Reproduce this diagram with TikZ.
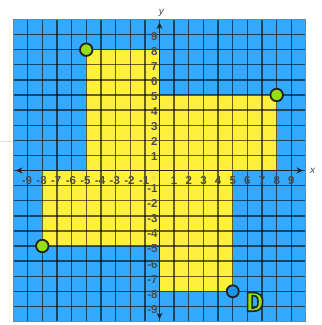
\documentclass[tikz,border=0pt]{standalone}
\usepackage{fontspec}
\newfontfamily\labfont{Liberation Sans}
\newfontfamily\dfont{Fira Sans}
\usetikzlibrary{arrows.meta}
\definecolor{gridblue}{RGB}{51,170,255}
\definecolor{shapeyellow}{RGB}{255,240,60}
\definecolor{dotgreen}{RGB}{150,222,20}
\definecolor{dotblue}{RGB}{25,150,235}
\definecolor{labgray}{RGB}{75,75,75}
\definecolor{edgedark}{RGB}{35,35,35}
\newcommand{\outlinedD}{{\color{dotgreen}\special{pdf:code 0.14 0.14 0.14 RG 2 Tr 1.6 w}D\special{pdf:code 0 Tr 1 w}}}
\tikzset{
  gridline/.style={black, opacity=0.6, line width=1.4pt},
  axisline/.style={edgedark, line width=1.8pt, {Stealth[length=6.5pt,width=6pt]}-{Stealth[length=6.5pt,width=6pt]}},
  xlab/.style={font=\labfont\bfseries\fontsize{11.5}{11.5}\selectfont, text=labgray, inner sep=0pt},
  ylab/.style={font=\labfont\bfseries\fontsize{11.5}{11.5}\selectfont, text=labgray, inner sep=0pt, anchor=east},
  axisname/.style={font=\labfont\itshape\fontsize{10}{10}\selectfont, text=labgray, inner sep=0pt},
  greendot/.style={circle, fill=dotgreen, draw=edgedark, line width=1.8pt, minimum size=12.5pt, inner sep=0pt},
  bluedot/.style={circle, fill=dotblue, draw=edgedark, line width=1.8pt, minimum size=12pt, inner sep=0pt},
  dletter/.style={font=\dfont\bfseries\fontsize{27}{27}\selectfont, inner sep=0pt}
}
\begin{document}
\begin{tikzpicture}[x=1pt,y=1pt]
\useasboundingbox (0,0) rectangle (322,325);
\fill[white] (0,0) rectangle (322,325);
\draw[gray!20, line width=0.8pt] (0,184) -- (13,184);
\begin{scope}[shift={(159.5,154.5)}, x=14.65pt, y=15.1pt]
  \fill[gridblue] (-10,-10) rectangle (10,10);
  \fill[shapeyellow] (-5,0) rectangle (0,8);
  \fill[shapeyellow] (0,0) rectangle (8,5);
  \fill[shapeyellow] (-8,-5) rectangle (0,0);
  \fill[shapeyellow] (0,-8) rectangle (5,0);
  \foreach \i in {-9,...,9} {
    \draw[gridline] (\i,-10) -- (\i,10);
    \draw[gridline] (-10,\i) -- (10,\i);
  }
  \draw[gray, line width=1pt] (-10,-10) rectangle (10,10);
  % axes
  \coordinate (xl) at (-9.8,0);
  \coordinate (xr) at (9.8,0);
  \coordinate (yb) at (0,-9.85);
  \coordinate (yt) at (0,9.8);
  \draw[axisline] (xl) -- (xr);
  \draw[axisline] (yb) -- (yt);
  \node[axisname] (xname) at (10.46,-0.05) {x};
  \node[axisname] (yname) at (0.12,10.45) {y};
  % tick labels
  \foreach \i in {1,...,9} {
    \node[xlab] (xp\i) at (\i,-0.68) {\i};
    \node[xlab] (xn\i) at (-\i-0.05,-0.68) {-\i};
    \node[ylab] (yp\i) at (-0.12,\i-0.1) {\i};
    \node[ylab] (yn\i) at (-0.12,-\i-0.2) {-\i};
  }
  \node[font=\labfont\fontsize{6}{6}\selectfont, text=yellow!60!brown, inner sep=0pt] (origin) at (-0.38,-0.5) {0};
  % points
  \node[greendot] (p1) at (-5,8) {};
  \node[greendot] (p2) at (8,5) {};
  \node[greendot] (p3) at (-8,-5) {};
  \node[bluedot] (p4) at (5,-8) {};
  % letter D with outline
  \node[dletter] (dlabel) at (6.5,-8.7) {\outlinedD};
\end{scope}
\end{tikzpicture}
\end{document}
